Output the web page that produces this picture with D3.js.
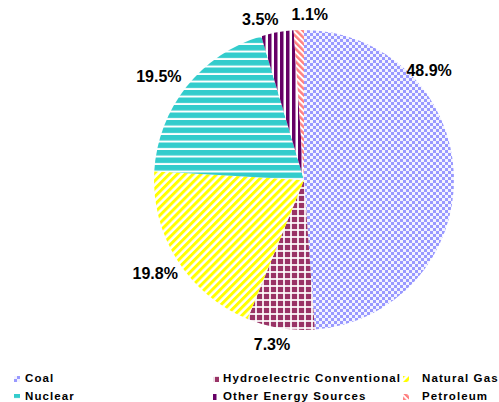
<!DOCTYPE html>
<html>
<head>
<meta charset="utf-8">
<script src="https://cdn.jsdelivr.net/npm/d3@7"></script>
<style>
  body { margin: 0; background: #fff; }
  svg { display: block; font-family: "Liberation Sans", Arial, sans-serif; }
  .pct { font-size: 16px; font-weight: bold; }
  .legend text { font-size: 11.5px; font-weight: bold; letter-spacing: 1.1px; }
</style>
</head>
<body>
<div id="chart"></div>
<script>
const categories = ['Coal', 'Hydroelectric Conventional', 'Natural Gas', 'Nuclear', 'Other Energy Sources', 'Petroleum'];
const shares = [48.9, 7.3, 19.8, 19.5, 3.5, 1.1];
const labels = ['48.9%', '7.3%', '19.8%', '19.5%', '3.5%', '1.1%'];

const width = 499;
const height = 402;
const cx = 304, cy = 180, radius = 150;

const svg = d3.select('#chart')
  .append('svg')
  .attr('width', width)
  .attr('height', height);

const defs = svg.append('defs');

// checkerboard
const pCoal = defs.append('pattern').attr('id', 'p0')
  .attr('patternUnits', 'userSpaceOnUse').attr('width', 6).attr('height', 6);
pCoal.append('rect').attr('width', 6).attr('height', 6).attr('fill', '#9999ff');
pCoal.append('rect').attr('width', 3).attr('height', 3).attr('fill', '#f4f4ff');
pCoal.append('rect').attr('x', 3).attr('y', 3).attr('width', 3).attr('height', 3).attr('fill', '#f4f4ff');

// plaid
const pHydro = defs.append('pattern').attr('id', 'p1')
  .attr('patternUnits', 'userSpaceOnUse').attr('width', 7).attr('height', 7);
pHydro.append('rect').attr('width', 7).attr('height', 7).attr('fill', '#993366');
pHydro.append('rect').attr('width', 2).attr('height', 7).attr('fill', '#fff').attr('opacity', 0.85);
pHydro.append('rect').attr('width', 7).attr('height', 2).attr('fill', '#fff').attr('opacity', 0.85);

// diagonal stripes "/"
const pGas = defs.append('pattern').attr('id', 'p2')
  .attr('patternUnits', 'userSpaceOnUse').attr('width', 5.6).attr('height', 5.6)
  .attr('patternTransform', 'rotate(45)');
pGas.append('rect').attr('width', 5.6).attr('height', 5.6).attr('fill', '#ffffff');
pGas.append('rect').attr('width', 3).attr('height', 5.6).attr('fill', '#ffff00');

// horizontal stripes
const pNuc = defs.append('pattern').attr('id', 'p3')
  .attr('patternUnits', 'userSpaceOnUse').attr('width', 7.5).attr('height', 7.5);
pNuc.append('rect').attr('width', 7.5).attr('height', 7.5).attr('fill', '#33cccc');
pNuc.append('rect').attr('y', 5.5).attr('width', 7.5).attr('height', 2).attr('fill', '#fff');

// vertical stripes
const pOther = defs.append('pattern').attr('id', 'p4')
  .attr('patternUnits', 'userSpaceOnUse').attr('width', 6).attr('height', 6);
pOther.append('rect').attr('width', 6).attr('height', 6).attr('fill', '#660066');
pOther.append('rect').attr('x', 3.5).attr('width', 2.5).attr('height', 6).attr('fill', '#fff');

// diagonal stripes "\"
const pPet = defs.append('pattern').attr('id', 'p5')
  .attr('patternUnits', 'userSpaceOnUse').attr('width', 4.5).attr('height', 4.5)
  .attr('patternTransform', 'rotate(-45)');
pPet.append('rect').attr('width', 4.5).attr('height', 4.5).attr('fill', '#fff');
pPet.append('rect').attr('width', 2.5).attr('height', 4.5).attr('fill', '#ff8080');

const fills = categories.map((c, i) => `url(#p${i})`);

// pie
const pie = d3.pie().sort(null).value(d => d);
const arcs = pie(shares);
const arc = d3.arc().innerRadius(0).outerRadius(radius);

const g = svg.append('g').attr('transform', `translate(${cx},${cy})`);

g.selectAll('path.slice')
  .data(arcs)
  .enter()
  .append('path')
  .attr('class', 'slice')
  .attr('d', arc)
  .attr('fill', (d, i) => fills[i]);

// percentage labels, nudged the way the original spreads them out
const labelShift = [-39, 2, 0, -3, -5, 4]; // degrees
const labelRadius = [166, 168, 176, 178, 166, 166];
g.selectAll('text.pct')
  .data(arcs)
  .enter()
  .append('text')
  .attr('class', 'pct')
  .attr('text-anchor', 'middle')
  .attr('dominant-baseline', 'central')
  .attr('transform', (d, i) => {
    const a = (d.startAngle + d.endAngle) / 2 + labelShift[i] * Math.PI / 180;
    const r = labelRadius[i];
    return `translate(${r * Math.sin(a)},${-r * Math.cos(a)})`;
  })
  .text((d, i) => labels[i]);

// legend
const legendX = [14, 213, 403];
const legendTextX = [11, 10, 19];
const legendY = [382, 400];
const legend = svg.append('g').attr('class', 'legend');
categories.forEach((name, k) => {
  const col = k % 3, row = Math.floor(k / 3);
  const item = legend.append('g')
    .attr('transform', `translate(${legendX[col]},${legendY[row]})`);
  item.append('rect')
    .attr('x', 0).attr('y', -6)
    .attr('width', 6).attr('height', 6)
    .attr('fill', fills[k]);
  item.append('text')
    .attr('x', legendTextX[col]).attr('y', 0)
    .text(name);
});
</script>
</body>
</html>
